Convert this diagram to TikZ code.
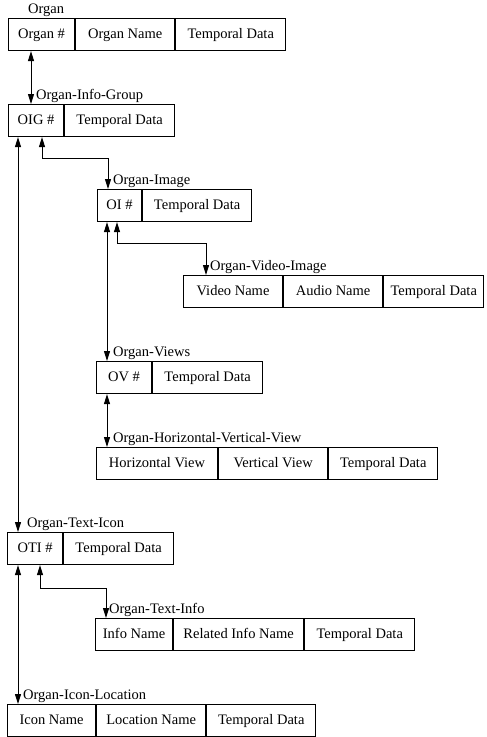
\documentclass[tikz,border=0pt]{standalone}
\usepackage{fontspec}
\setmainfont{Liberation Serif}
\usetikzlibrary{positioning,arrows.meta}

\tikzset{
  cel/.style={draw, line width=1.1pt, minimum height=32pt, inner sep=0pt,
    text height=10pt, text depth=3pt, font=\fontsize{14.5}{17}\selectfont},
  rot/.style={anchor=base west, inner sep=0pt, font=\fontsize{14.5}{17}\selectfont},
  lig/.style={line width=1pt,
    {Triangle[length=10pt,width=6pt]}-{Triangle[length=10pt,width=6pt]}},
}

\begin{document}
\begin{tikzpicture}[x=1pt, y=-1pt]
  \useasboundingbox (0,0) rectangle (487,737);
  % Organ
  \node[cel, anchor=north west, minimum width=66pt] (organNum) at (8,18) {Organ \#};
  \node[cel, minimum width=99pt, right=0pt of organNum] (organNome) {Organ Name};
  \node[cel, minimum width=110pt, right=0pt of organNome] (organTemp) {Temporal Data};
  \node[rot] (lblOrgan) at ([xshift=20pt, yshift=5pt]organNum.north west) {Organ};
  % Organ-Info-Group
  \node[cel, anchor=north west, minimum width=55pt] (oigNum) at (8,104) {OIG \#};
  \node[cel, minimum width=110pt, right=0pt of oigNum] (oigTemp) {Temporal Data};
  \node[rot] (lblOig) at ([xshift=28pt, yshift=5pt]oigNum.north west) {Organ-Info-Group};
  % Organ-Image
  \node[cel, anchor=north west, minimum width=44pt] (oiNum) at (97,189) {OI \#};
  \node[cel, minimum width=109pt, right=0pt of oiNum] (oiTemp) {Temporal Data};
  \node[rot] (lblOi) at ([xshift=16pt, yshift=5pt]oiNum.north west) {Organ-Image};
  % Organ-Video-Image
  \node[cel, anchor=north west, minimum width=99pt] (vidNome) at (183,275) {Video Name};
  \node[cel, minimum width=99pt, right=0pt of vidNome] (audNome) {Audio Name};
  \node[cel, minimum width=100pt, right=0pt of audNome] (vidTemp) {Temporal Data};
  \node[rot] (lblVid) at ([xshift=27pt, yshift=5pt]vidNome.north west) {Organ-Video-Image};
  % Organ-Views
  \node[cel, anchor=north west, minimum width=55pt] (ovNum) at (96,361) {OV \#};
  \node[cel, minimum width=110pt, right=0pt of ovNum] (ovTemp) {Temporal Data};
  \node[rot] (lblOv) at ([xshift=17pt, yshift=5pt]ovNum.north west) {Organ-Views};
  % Organ-Horizontal-Vertical-View
  \node[cel, anchor=north west, minimum width=121pt] (horVista) at (96,447) {Horizontal View};
  \node[cel, minimum width=109pt, right=0pt of horVista] (verVista) {Vertical View};
  \node[cel, minimum width=109pt, right=0pt of verVista] (hvTemp) {Temporal Data};
  \node[rot] (lblHv) at ([xshift=17pt, yshift=5pt]horVista.north west) {Organ-Horizontal-Vertical-View};
  % Organ-Text-Icon
  \node[cel, anchor=north west, minimum width=55pt] (otiNum) at (7,532) {OTI \#};
  \node[cel, minimum width=110pt, right=0pt of otiNum] (otiTemp) {Temporal Data};
  \node[rot] (lblOti) at ([xshift=20pt, yshift=5pt]otiNum.north west) {Organ-Text-Icon};
  % Organ-Text-Info
  \node[cel, anchor=north west, minimum width=77pt] (infoNome) at (95,618) {Info Name};
  \node[cel, minimum width=130pt, right=0pt of infoNome] (relNome) {Related Info Name};
  \node[cel, minimum width=110pt, right=0pt of relNome] (infoTemp) {Temporal Data};
  \node[rot] (lblInfo) at ([xshift=14pt, yshift=5pt]infoNome.north west) {Organ-Text-Info};
  % Organ-Icon-Location
  \node[cel, anchor=north west, minimum width=88pt] (iconeNome) at (7,704) {Icon Name};
  \node[cel, minimum width=109pt, right=0pt of iconeNome] (locNome) {Location Name};
  \node[cel, minimum width=109pt, right=0pt of locNome] (iconeTemp) {Temporal Data};
  \node[rot] (lblIcone) at ([xshift=16pt, yshift=5pt]iconeNome.north west) {Organ-Icon-Location};
  % ligacoes
  \draw[lig] ([xshift=23pt]organNum.south west) -- ([xshift=23pt]oigNum.north west);
  \draw[lig] ([xshift=10pt]oigNum.south west) -- ([xshift=11pt]otiNum.north west);
  \draw[lig] ([xshift=34pt]oigNum.south west) -- ++(0,21) -| ([xshift=11pt]oiNum.north west);
  \draw[lig] ([xshift=10pt]oiNum.south west) -- ([xshift=11pt]ovNum.north west);
  \draw[lig] ([xshift=20pt]oiNum.south west) -- ++(0,21) -| ([xshift=23pt]vidNome.north west);
  \draw[lig] ([xshift=11pt]ovNum.south west) -- ([xshift=11pt]horVista.north west);
  \draw[lig] ([xshift=33pt]otiNum.south west) -- ++(0,23) -| ([xshift=11pt]infoNome.north west);
  \draw[lig] ([xshift=11pt]otiNum.south west) -- ([xshift=11pt]iconeNome.north west);
\end{tikzpicture}
\end{document}
